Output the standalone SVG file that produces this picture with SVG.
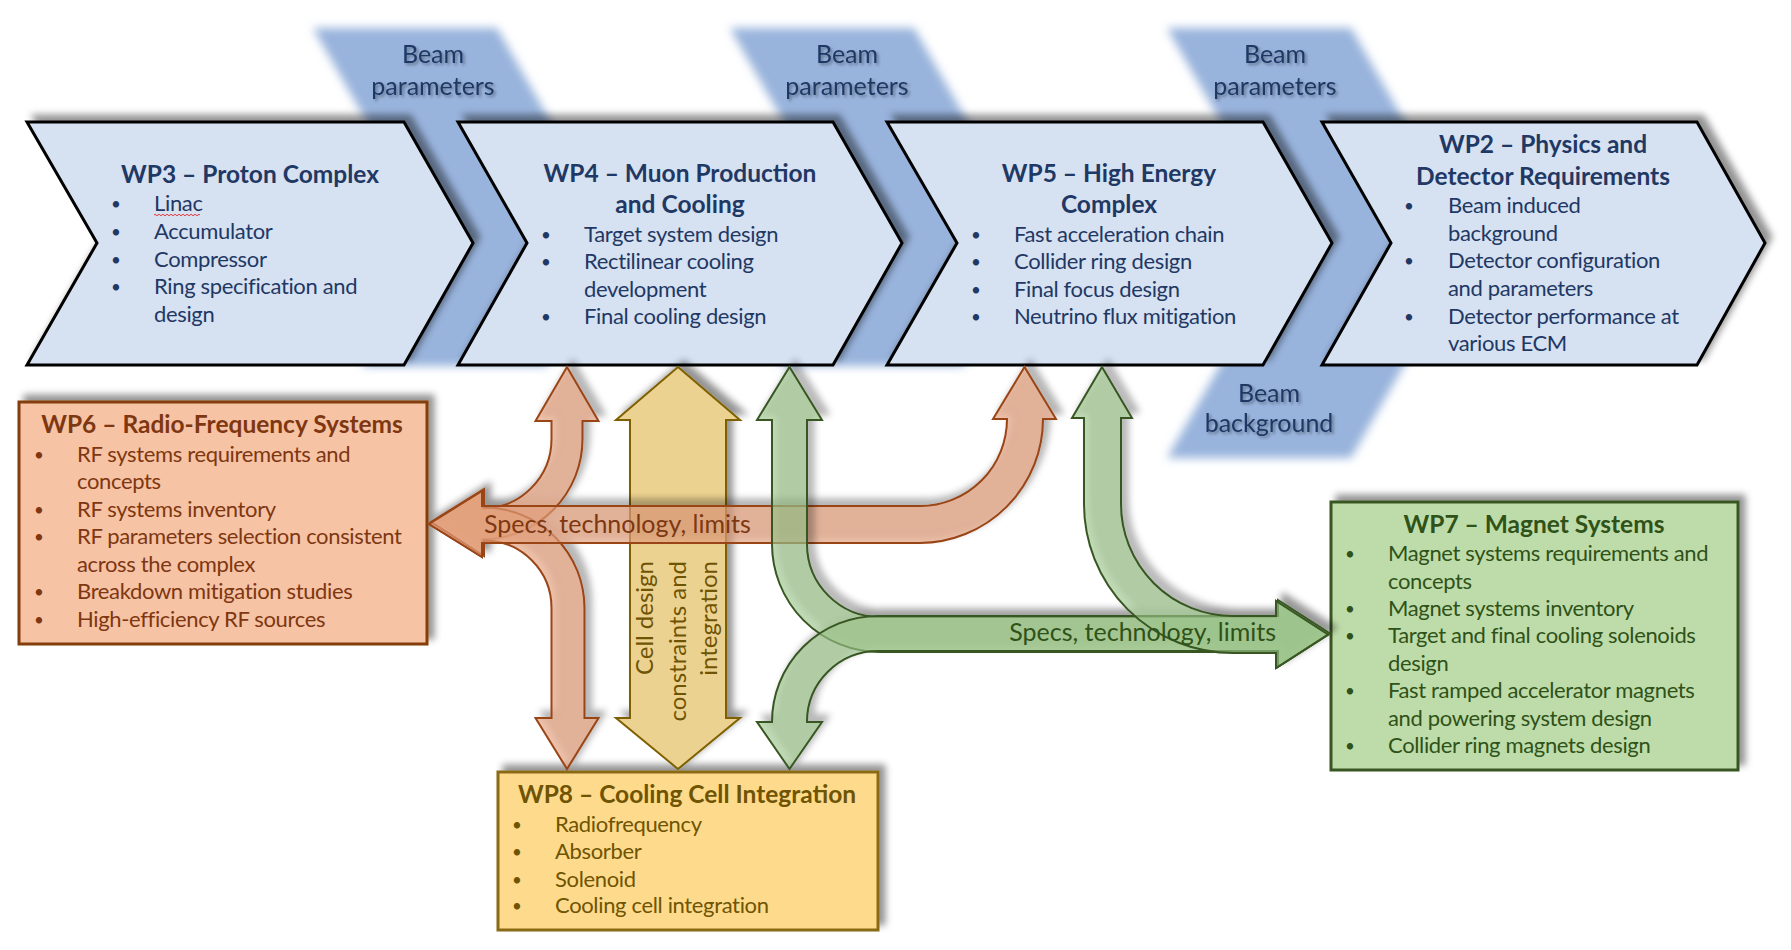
<svg xmlns="http://www.w3.org/2000/svg" width="1791" height="950" viewBox="0 0 1791 950">
<defs>
<filter id="sh" x="-10%" y="-15%" width="125%" height="130%">
<feGaussianBlur in="SourceAlpha" stdDeviation="3.5"/>
<feOffset dx="6" dy="-6" result="o"/>
<feFlood flood-color="#000" flood-opacity="0.42"/>
<feComposite in2="o" operator="in"/>
<feMerge><feMergeNode/><feMergeNode in="SourceGraphic"/></feMerge>
</filter>
<filter id="blur" x="-20%" y="-20%" width="140%" height="140%">
<feGaussianBlur stdDeviation="5"/>
</filter>
<filter id="tsh" x="-10%" y="-30%" width="120%" height="160%">
<feGaussianBlur in="SourceAlpha" stdDeviation="1.5"/>
<feOffset dx="2" dy="2" result="o"/>
<feFlood flood-color="#000" flood-opacity="0.35"/>
<feComposite in2="o" operator="in"/>
<feMerge><feMergeNode/><feMergeNode in="SourceGraphic"/></feMerge>
</filter>
<style>
text { font-family: Lato, "Noto Sans", sans-serif; font-size: 22px; letter-spacing: -0.35px; }
.b { font-weight: bold; font-size: 24.5px; letter-spacing: 0; }
.lab { font-size: 25px; letter-spacing: 0; }
.rot { font-size: 24px; letter-spacing: 0; text-anchor: end; }
.m { text-anchor: middle; }
.bu { font-size: 17px; }
.nv { fill: #1f3864; }
.br { fill: #7e3711; }
.gr { fill: #2f5218; }
.yl { fill: #6f5403; }
.band { fill: #98b3dc; }
.chev { fill: #d6e1f1; stroke: #000; stroke-width: 3; }
.or { fill: #e39f7c; fill-opacity: 0.65; stroke: #9a4519; stroke-width: 2; }
.ye { fill: #ecd290; stroke: #7f6000; stroke-width: 2; }
.gn { fill: #9cc58a; fill-opacity: 0.62; stroke: #385723; stroke-width: 2; }
</style>
</defs>

<g id="bands" filter="url(#blur)">
<polygon class="band" points="313,28 497,28 620,243 546,366 362,366 436,243"/>
<polygon class="band" points="730,28 914,28 1037,243 963,366 779,366 853,243"/>
<polygon class="band" points="1167,28 1351,28 1474,243 1351,458 1167,458 1290,243"/>
</g>
<g id="band-labels" class="nv" filter="url(#tsh)">
<text class="m lab" x="433" y="63">Beam</text>
<text class="m lab" x="433" y="95">parameters</text>
<text class="m lab" x="847" y="63">Beam</text>
<text class="m lab" x="847" y="95">parameters</text>
<text class="m lab" x="1275" y="63">Beam</text>
<text class="m lab" x="1275" y="95">parameters</text>
<text class="m lab" x="1269" y="402">Beam</text>
<text class="m lab" x="1269" y="432">background</text>
</g>

<g id="wp3">
<polygon class="chev" filter="url(#sh)" points="27,122 404,122 473,243 404,365 27,365 97,243"/>
<g class="nv">
<text class="b m" x="250" y="183">WP3 – Proton Complex</text>
<text class="bu" x="111" y="210">•</text><text x="154" y="211">Linac</text>
<text class="bu" x="111" y="238">•</text><text x="154" y="239">Accumulator</text>
<text class="bu" x="111" y="266">•</text><text x="154" y="267">Compressor</text>
<text class="bu" x="111" y="293">•</text><text x="154" y="294">Ring specification and</text>
<text x="154" y="322">design</text>
</g>
<path d="M154,215 q1,-1.5 2,0 t2,0 t2,0 t2,0 t2,0 t2,0 t2,0 t2,0 t2,0 t2,0 t2,0 t2,0 t2,0 t2,0 t2,0 t2,0 t2,0 t2,0 t2,0 t2,0 t2,0 t2,0 t2,0" fill="none" stroke="#e02828" stroke-width="0.9"/>
</g>

<g id="wp4">
<polygon class="chev" filter="url(#sh)" points="458,122 833,122 902,243 833,365 458,365 527,243"/>
<g class="nv">
<text class="b m" x="680" y="182">WP4 – Muon Production</text>
<text class="b m" x="680" y="213">and Cooling</text>
<text class="bu" x="541" y="241">•</text><text x="584" y="242">Target system design</text>
<text class="bu" x="541" y="268">•</text><text x="584" y="269">Rectilinear cooling</text>
<text x="584" y="297">development</text>
<text class="bu" x="541" y="323">•</text><text x="584" y="324">Final cooling design</text>
</g>
</g>

<g id="wp5">
<polygon class="chev" filter="url(#sh)" points="887,122 1263,122 1332,243 1263,365 887,365 957,243"/>
<g class="nv">
<text class="b m" x="1109" y="182">WP5 – High Energy</text>
<text class="b m" x="1109" y="213">Complex</text>
<text class="bu" x="971" y="241">•</text><text x="1014" y="242">Fast acceleration chain</text>
<text class="bu" x="971" y="268">•</text><text x="1014" y="269">Collider ring design</text>
<text class="bu" x="971" y="296">•</text><text x="1014" y="297">Final focus design</text>
<text class="bu" x="971" y="323">•</text><text x="1014" y="324">Neutrino flux mitigation</text>
</g>
</g>

<g id="wp2">
<polygon class="chev" filter="url(#sh)" points="1322,122 1697,122 1765,243 1697,365 1322,365 1391,243"/>
<g class="nv">
<text class="b m" x="1543" y="153">WP2 – Physics and</text>
<text class="b m" x="1543" y="185">Detector Requirements</text>
<text class="bu" x="1404" y="212">•</text><text x="1448" y="213">Beam induced</text>
<text x="1448" y="241">background</text>
<text class="bu" x="1404" y="267">•</text><text x="1448" y="268">Detector configuration</text>
<text x="1448" y="296">and parameters</text>
<text class="bu" x="1404" y="323">•</text><text x="1448" y="324">Detector performance at</text>
<text x="1448" y="351">various ECM</text>
</g>
</g>

<g id="wp6">
<rect x="19" y="402" width="408" height="242" fill="#f6c3a5" stroke="#843c0c" stroke-width="3" filter="url(#sh)"/>
<g class="br">
<text class="b m" x="222" y="433">WP6 – Radio-Frequency Systems</text>
<text class="bu" x="34" y="461">•</text><text x="77" y="462">RF systems requirements and</text>
<text x="77" y="489">concepts</text>
<text class="bu" x="34" y="516">•</text><text x="77" y="517">RF systems inventory</text>
<text class="bu" x="34" y="543">•</text><text x="77" y="544">RF parameters selection consistent</text>
<text x="77" y="572">across the complex</text>
<text class="bu" x="34" y="598">•</text><text x="77" y="599">Breakdown mitigation studies</text>
<text class="bu" x="34" y="626">•</text><text x="77" y="627">High-efficiency RF sources</text>
</g>
</g>

<g id="wp7">
<rect x="1331" y="502" width="407" height="268" fill="#bedcaa" stroke="#385723" stroke-width="3" filter="url(#sh)"/>
<g class="gr">
<text class="b m" x="1534" y="533">WP7 – Magnet Systems</text>
<text class="bu" x="1345" y="560">•</text><text x="1388" y="561">Magnet systems requirements and</text>
<text x="1388" y="589">concepts</text>
<text class="bu" x="1345" y="615">•</text><text x="1388" y="616">Magnet systems inventory</text>
<text class="bu" x="1345" y="642">•</text><text x="1388" y="643">Target and final cooling solenoids</text>
<text x="1388" y="671">design</text>
<text class="bu" x="1345" y="697">•</text><text x="1388" y="698">Fast ramped accelerator magnets</text>
<text x="1388" y="726">and powering system design</text>
<text class="bu" x="1345" y="752">•</text><text x="1388" y="753">Collider ring magnets design</text>
</g>
</g>

<g id="wp8">
<rect x="498" y="772" width="380" height="158" fill="#fedb8c" stroke="#8a6a12" stroke-width="3" filter="url(#sh)"/>
<g class="yl">
<text class="b m" x="687" y="803">WP8 – Cooling Cell Integration</text>
<text class="bu" x="512" y="831">•</text><text x="555" y="832">Radiofrequency</text>
<text class="bu" x="512" y="858">•</text><text x="555" y="859">Absorber</text>
<text class="bu" x="512" y="886">•</text><text x="555" y="887">Solenoid</text>
<text class="bu" x="512" y="912">•</text><text x="555" y="913">Cooling cell integration</text>
</g>
</g>

<g id="connectors">
<g filter="url(#sh)">
<path class="ye" d="M678,367 L740,420 L726,420 L726,718 L740,718 L678,769 L616,718 L630,718 L630,420 L616,420 Z"/>
</g>
<g class="yl">
<text class="rot" transform="translate(653,561) rotate(-90)">Cell design</text>
<text class="rot" transform="translate(686,561) rotate(-90)">constraints and</text>
<text class="rot" transform="translate(717,561) rotate(-90)">integration</text>
</g>
<g filter="url(#sh)">
<path class="or" d="M567,367 L598.5,421 L582.5,421 L582.5,439 A100.5,100.5 0 0 1 482,539.5 L482,557 L429,524 L482,491 L482,508.5 A69.5,69.5 0 0 0 551.5,439 L551.5,421 L535.5,421 Z"/>
<path class="or" d="M484,507.5 A100.5,100.5 0 0 1 584.5,608 L584.5,718 L598.5,718 L567,769 L535.5,718 L551.5,718 L551.5,608 A67.5,67.5 0 0 0 484,540.5 L484,556 L431,522 L484,489 Z"/>
<path class="or" d="M429,524 L482,491 L482,506 L920,506 A87,87 0 0 0 1007,419 L993,419 L1024.5,367 L1056,419 L1043,419 A124,124 0 0 1 920,543 L482,543 L482,557 Z"/>
</g>
<text class="br lab" x="484" y="533">Specs, technology, limits</text>
<g filter="url(#sh)">
<path class="gn" d="M789.5,367 L822,420 L807,420 L807,544 A73,73 0 0 0 880,617 L1276,617 L1276,601 L1328,634.5 L1276,668 L1276,652 L880,652 A108,108 0 0 1 772,544 L772,420 L757,420 Z"/>
<path class="gn" d="M789.5,769 L822,722 L807,722 A71,71 0 0 1 878,651 L1278,651 L1278,667 L1330,633.5 L1278,600 L1278,616 L878,616 A106,106 0 0 0 772,722 L757,722 Z"/>
<path class="gn" d="M1102,367 L1132,418 L1121,418 L1121,504 A112,112 0 0 0 1233,616 L1276,616 L1276,601 L1328,634.5 L1276,668 L1276,653 L1233,653 A149,149 0 0 1 1084,504 L1084,418 L1072,418 Z"/>
</g>
<text class="gr lab" x="1276" y="641" style="text-anchor:end">Specs, technology, limits</text>
</g>
</svg>
